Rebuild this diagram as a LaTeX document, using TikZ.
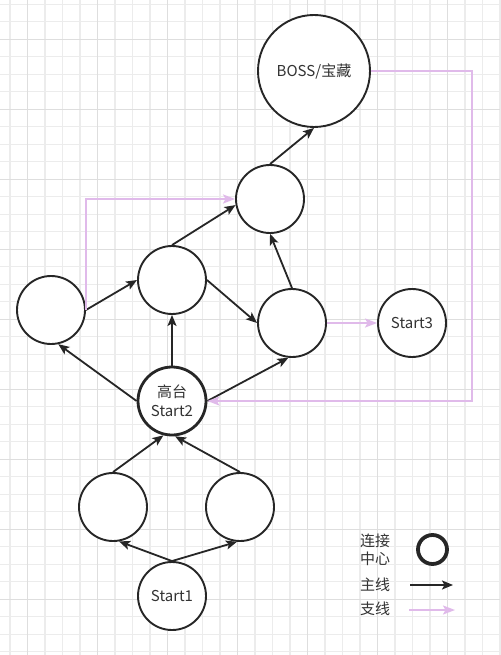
\documentclass[tikz,border=0pt]{standalone}
\usepackage{fontspec}
\setmainfont{Noto Sans CJK SC}
\usepackage{tikz}
\usetikzlibrary{arrows.meta}
\usepackage{xcolor}
\definecolor{gridminor}{RGB}{236,236,236}
\definecolor{gridmajor}{RGB}{222,222,222}
\definecolor{inkgray}{RGB}{38,38,38}
\definecolor{textgray}{RGB}{51,51,51}
\definecolor{lilac}{RGB}{224,186,234}
\tikzset{
  room/.style={circle,draw=inkgray,line width=1.9pt,minimum size=68pt,inner sep=0pt,fill=white,
    align=center,text=textgray,font=\fontsize{15}{19}\selectfont},
  hubroom/.style={room,line width=2.8pt},
  bossroom/.style={room,minimum size=112pt},
  legring/.style={circle,draw=inkgray,line width=3.8pt,minimum size=29pt,inner sep=0pt,fill=white},
  legtext/.style={align=center,text=textgray,inner sep=0pt,font=\fontsize{15}{18}\selectfont},
  mainline/.style={-{Stealth[length=11pt,width=9pt,inset=2.5pt]},line width=1.8pt,draw=inkgray},
  branchline/.style={-{Stealth[length=12pt,width=9pt,inset=2.5pt]},line width=1.8pt,draw=lilac},
  gridthin/.style={draw=gridminor,line width=1.2pt},
  gridthick/.style={draw=gridmajor,line width=1.2pt}
}
\begin{document}
\begin{tikzpicture}[x=1pt,y=-1pt]
  \fill[white] (0,0) rectangle (500,655);
  \useasboundingbox (0,0) rectangle (500,655);
  \foreach \gx in {10,27.5,...,501} \draw[gridthin] (\gx,0) -- (\gx,655);
  \foreach \gy in {4.2,21.7,...,656} \draw[gridthin] (0,\gy) -- (500,\gy);
  \foreach \gx in {27.5,97.5,...,501} \draw[gridthick] (\gx,0) -- (\gx,655);
  \foreach \gy in {39.2,109.2,...,656} \draw[gridthick] (0,\gy) -- (500,\gy);

  \node[bossroom] (boss) at (314,71) {BOSS/宝藏};
  \node[room] (upper) at (270,199) {};
  \node[room] (lft) at (51,310) {};
  \node[room] (mid) at (172,280) {};
  \node[room] (rgt) at (292,323) {};
  \node[room] (start3) at (412,323) {Start3};
  \node[hubroom] (start2) at (172,401) {高台\\Start2};
  \node[room] (lowl) at (113,507) {};
  \node[room] (lowr) at (240,507) {};
  \node[room] (start1) at (172,596) {Start1};

  \draw[mainline] (start1.north) -- (lowl.-80);
  \draw[mainline] (start1.north) -- (lowr.-95);
  \draw[mainline] (lowl.north) -- (start2.-104);
  \draw[mainline] (lowr.north) -- (start2.-85);
  \draw[mainline] (start2.west) -- (lft.-78);
  \draw[mainline] (start2.north) -- (mid.south);
  \draw[mainline] (start2.east) -- (rgt.-96);
  \draw[mainline] (lft.east) -- (mid.west);
  \draw[mainline] (mid.east) -- (rgt.west);
  \draw[mainline] (mid.north) -- (upper.190);
  \draw[mainline] (rgt.north) -- (upper.south);
  \draw[mainline] (upper.north) -- (boss.south);

  \draw[branchline] (lft.east) |- (upper.west);
  \draw[branchline] (rgt.east) -- (start3.west);
  \draw[branchline] (boss.east) -- ++(101,0) |- (start2.east);

  \node[legtext] (legcenter) at (375,550) {连接\\中心};
  \node[legring] (legcircle) at (432.5,549.5) {};
  \node[legtext] (legmain) at (375,585) {主线};
  \node[legtext] (legbranch) at (375,609) {支线};
  \coordinate (mainfrom) at (410,585);
  \coordinate (mainto) at (453,585);
  \coordinate (branchfrom) at (409,610);
  \coordinate (branchto) at (455,610);
  \draw[mainline] (mainfrom) -- (mainto);
  \draw[branchline] (branchfrom) -- (branchto);
\end{tikzpicture}
\end{document}
